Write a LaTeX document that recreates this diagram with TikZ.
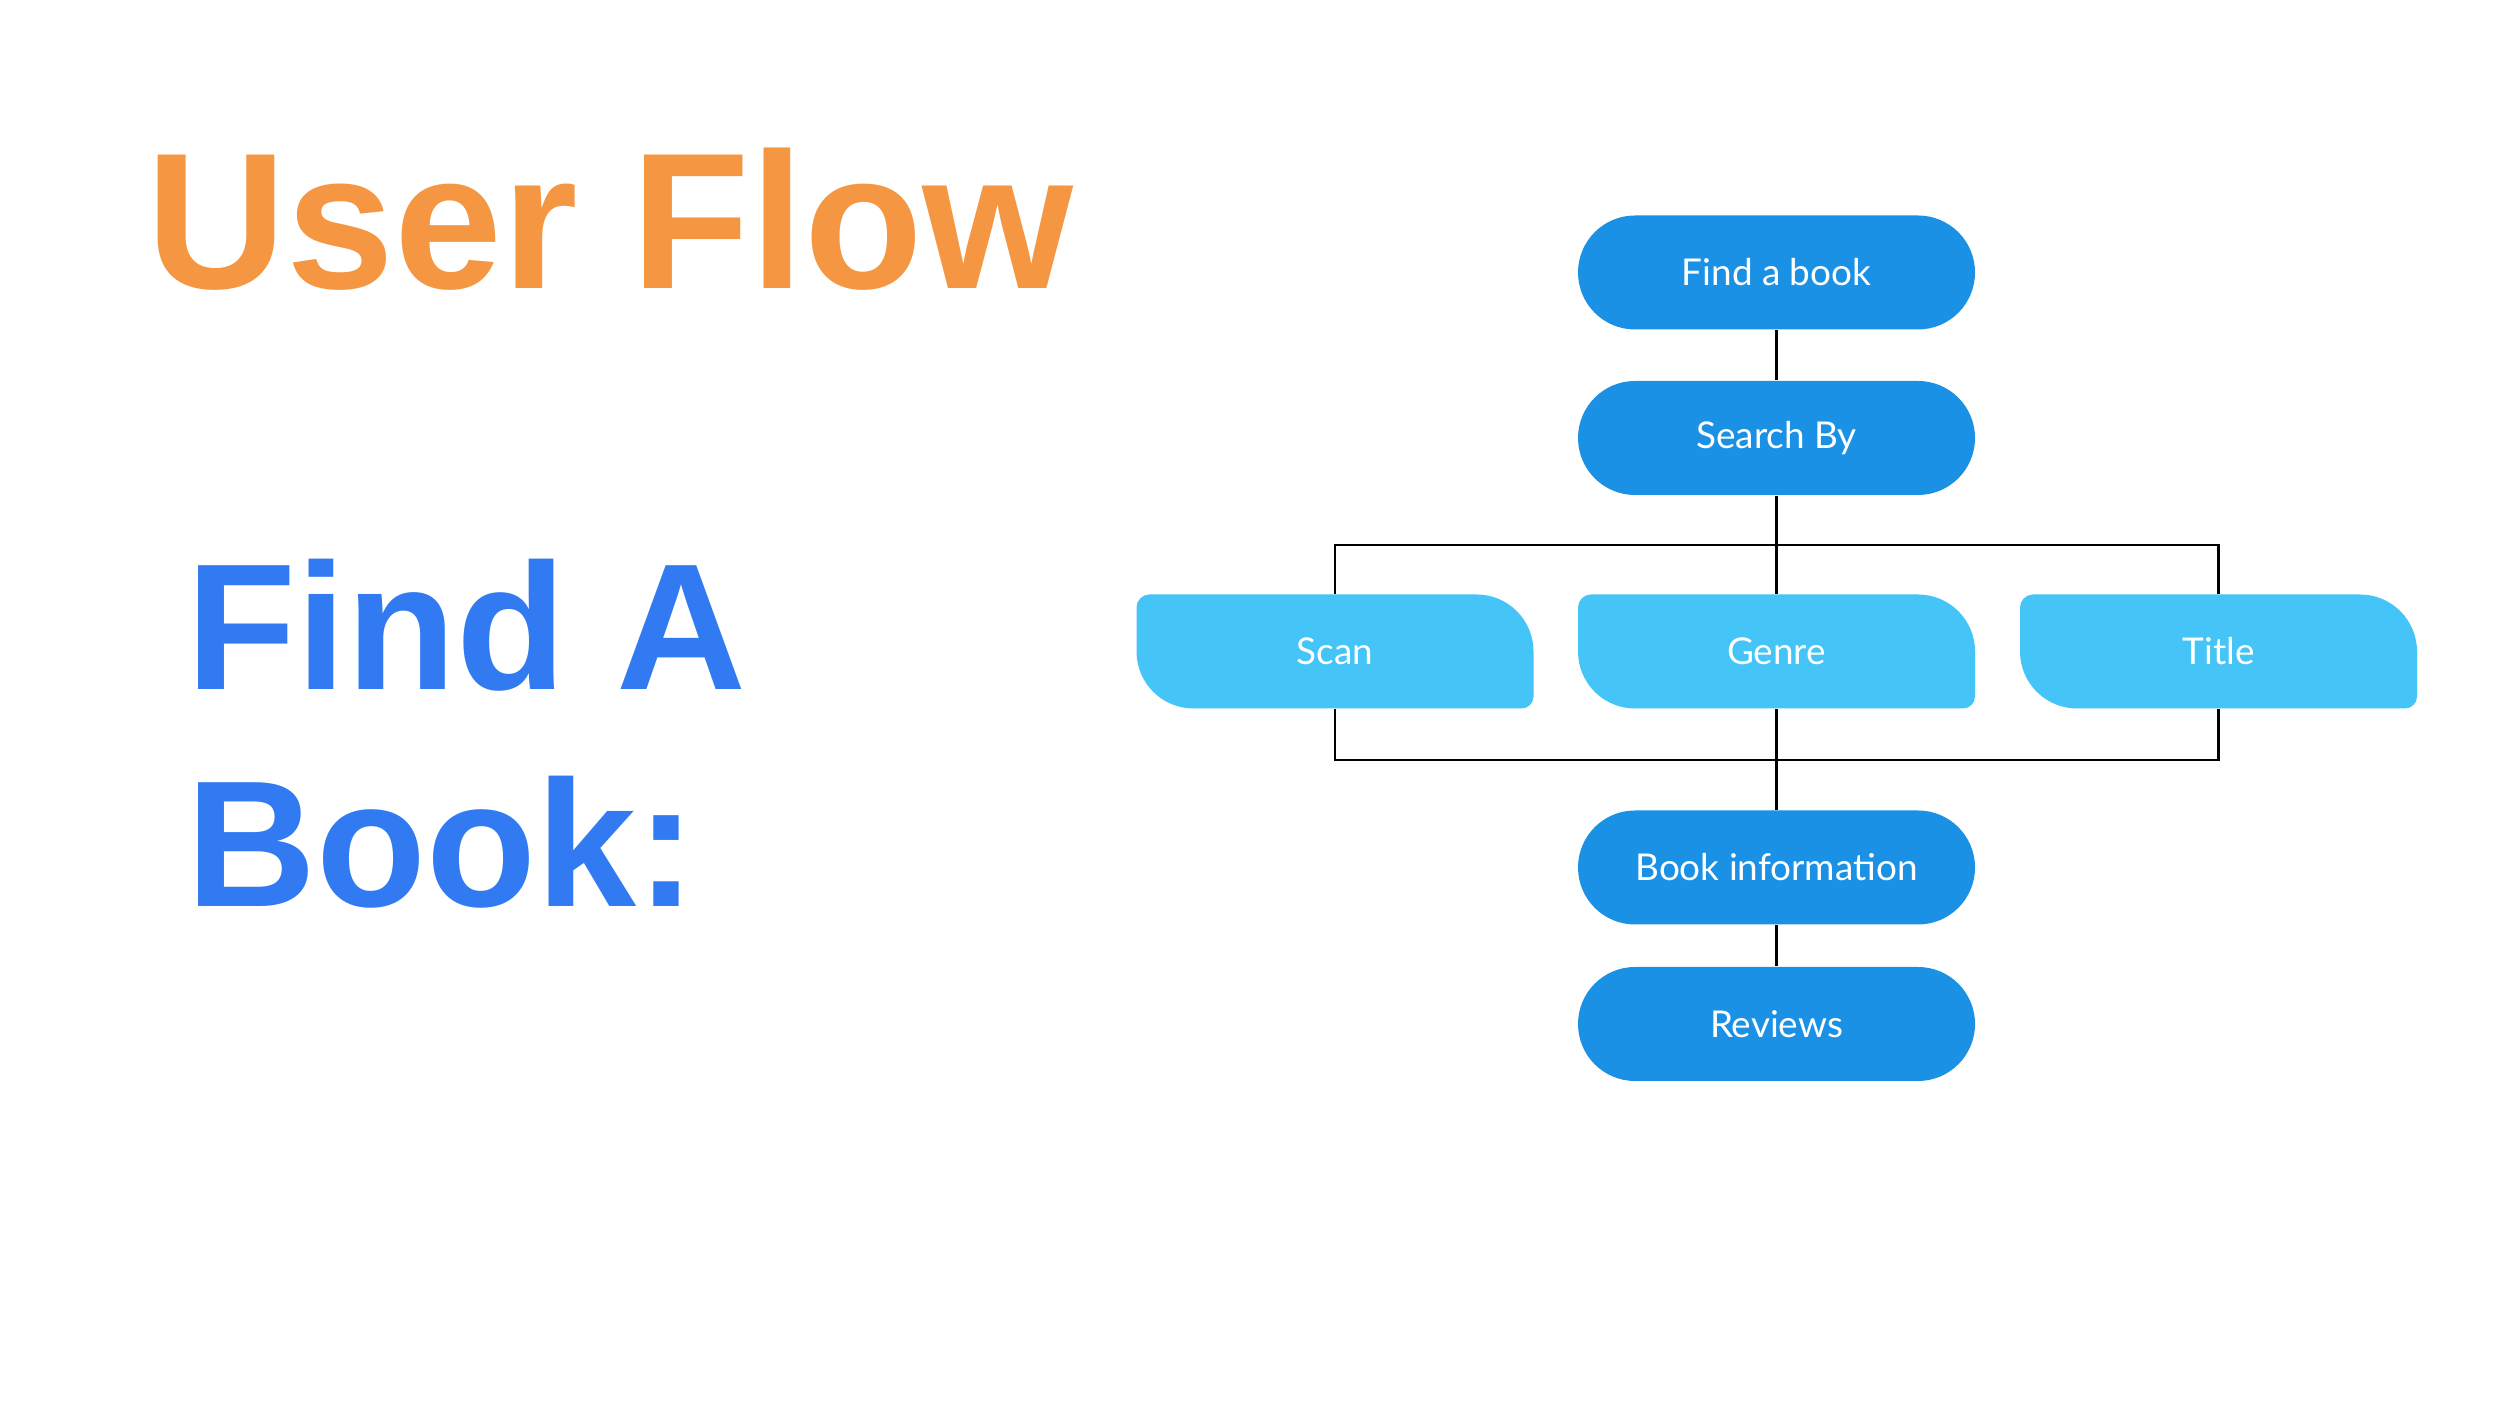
\documentclass[tikz,border=0pt]{standalone}
\usepackage{fontspec}
\setmainfont{Liberation Sans}
\newfontfamily\boxfont{Lato}
\definecolor{darkc}{HTML}{1A91E5}
\definecolor{lightc}{HTML}{44C4F7}
\definecolor{orangec}{HTML}{F49642}
\definecolor{bluec}{HTML}{317AF2}
\tikzset{
  darkbox/.style={rectangle, rounded corners=0.57cm, fill=darkc, minimum width=3.97cm, minimum height=1.14cm, inner sep=0pt, text=white, font=\boxfont\fontsize{10.5}{12}\selectfont},
  lightbox/.style={rectangle, minimum width=3.97cm, minimum height=1.14cm, inner sep=0pt, text=white, font=\boxfont\fontsize{10.5}{12}\selectfont,
    path picture={\fill[lightc] ([yshift=-0.13cm]path picture bounding box.north west) arc[start angle=180, end angle=90, radius=0.13cm]
      -- ([xshift=-0.57cm]path picture bounding box.north east) arc[start angle=90, end angle=0, radius=0.57cm]
      -- ([yshift=0.12cm]path picture bounding box.south east) arc[start angle=0, end angle=-90, radius=0.12cm]
      -- ([xshift=0.57cm]path picture bounding box.south west) arc[start angle=270, end angle=180, radius=0.57cm] -- cycle;}},
  conn/.style={draw=black, line width=0.6pt},
  titletext/.style={anchor=base west, inner sep=0pt, font=\bfseries\fontsize{55.2}{60}\selectfont, text=orangec},
  headtext/.style={anchor=base west, inner sep=0pt, font=\bfseries\fontsize{51.2}{60}\selectfont, text=bluec}
}
\begin{document}
\begin{tikzpicture}
\useasboundingbox[fill=white] (0,0) rectangle (25,14.06);
\node[titletext] (t1) at (1.46,11.17) {User Flow};
\node[headtext] (t2) at (1.86,7.16) {Find A};
\node[headtext] (t3) at (1.86,4.99) {Book:};

\node[darkbox] (find) at (17.765,11.335) {Find a book};
\node[darkbox] (search) at (17.765,9.68) {Search By};
\node[lightbox] (scan) at (13.35,7.545) {Scan};
\node[lightbox] (genre) at (17.765,7.545) {Genre};
\node[lightbox] (title) at (22.185,7.545) {Title};
\node[darkbox] (info) at (17.765,5.385) {Book information};
\node[darkbox] (rev) at (17.765,3.82) {Reviews};

\coordinate (bustop) at (17.765,8.61);
\coordinate (busbot) at (17.765,6.46);

\draw[conn] (find) -- (search);
\draw[conn] (search) -- (genre);
\draw[conn] (scan.north) |- (bustop) -| (title.north);
\draw[conn] (genre) -- (info);
\draw[conn] (scan.south) |- (busbot) -| (title.south);
\draw[conn] (info) -- (rev);
\end{tikzpicture}
\end{document}
